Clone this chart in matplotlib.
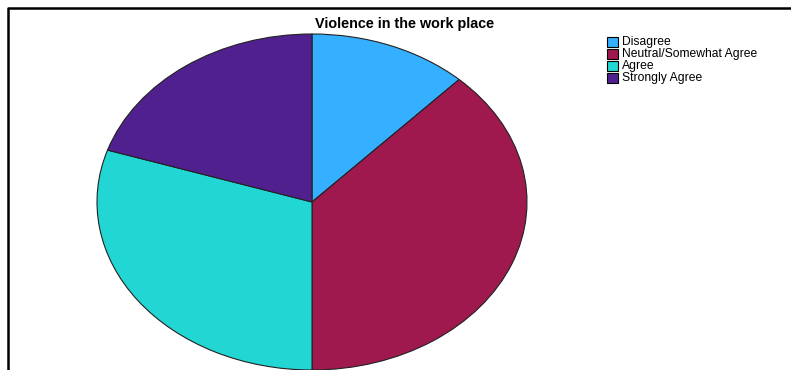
import matplotlib
matplotlib.use("Agg")
import matplotlib.pyplot as plt
import matplotlib.patches as patches

plt.rcParams['font.family'] = ['Liberation Sans', 'DejaVu Sans']

# survey responses, share of respondents (%)
labels = ['Disagree', 'Neutral/Somewhat Agree', 'Agree', 'Strongly Agree']
shares = [12, 38, 30, 20]
colors = ['#35afff', '#9f184e', '#22d6d4', '#51208f']
title = 'Violence in the work place'

W, H = 791, 370
fig = plt.figure(figsize=(W / 100, H / 100), dpi=100)

# overlay in pixel coordinates for frame, title and legend
over = fig.add_axes([0, 0, 1, 1])
over.set_xlim(0, W)
over.set_ylim(H, 0)
over.axis('off')
over.plot([8, 8, W], [H, 8, 8], color='black', lw=1.8, solid_capstyle='butt')
over.text(405, 24, title, ha='center', va='center', fontsize=10.4, fontweight='bold')

# the pie is stretched horizontally into an ellipse
px0, px1, py0, py1 = 97, 527, 34, 370
pie_ax = fig.add_axes([px0 / W, 1 - py1 / H, (px1 - px0) / W, (py1 - py0) / H])
pie_ax.pie(shares, colors=colors, startangle=90, counterclock=False, radius=1,
           wedgeprops=dict(edgecolor='#222222', linewidth=0.8))
pie_ax.set_aspect('auto')
pie_ax.set_xlim(-1, 1)
pie_ax.set_ylim(-1, 1)
pie_ax.axis('off')

# legend boxes
for i, (lab, c) in enumerate(zip(labels, colors)):
    y = 41.5 + i * 12.3
    over.add_patch(patches.Rectangle((607, y - 5), 11, 10, facecolor=c,
                                     edgecolor='black', lw=0.8))
    over.text(622, y, lab, ha='left', va='center', fontsize=8.7)

fig.savefig('out.png', dpi=100)
